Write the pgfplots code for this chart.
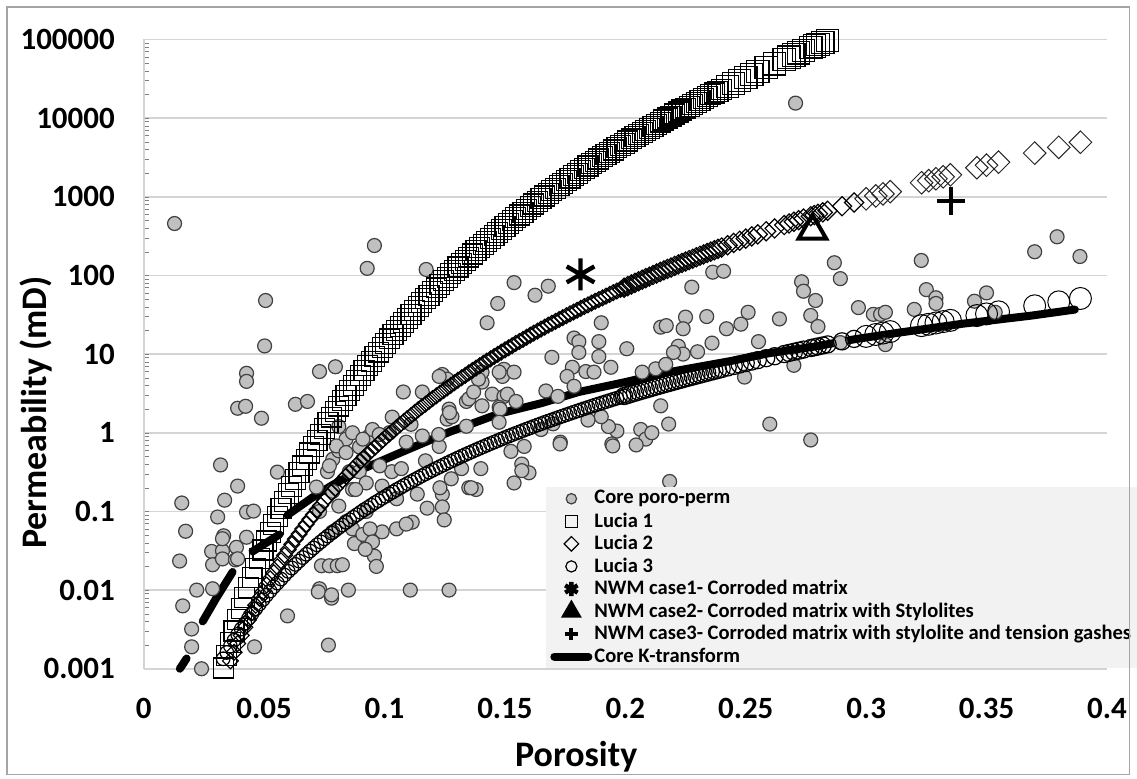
\documentclass[border=0pt]{standalone}
\usepackage{fontspec}
\setmainfont{Carlito}
\usepackage{pgfplots}
\pgfplotsset{compat=1.18}
\usepackage{pgfplotstable}
\definecolor{coregray}{RGB}{192,192,192}
\definecolor{gridgray}{RGB}{212,212,212}
\definecolor{leggray}{RGB}{242,242,242}
\definecolor{framegray}{RGB}{165,165,165}

\pgfplotstableread{
phi k
0.0128 457
0.0158 0.128
0.0174 0.056
0.0149 0.0234
0.022 0.010
0.0162 0.0063
0.0199 0.0032
0.0199 0.0019
0.024 0.001
0.0319 0.39
0.039 0.21
0.0336 0.139
0.0307 0.085
0.0427 0.098
0.0456 0.101
0.0332 0.049
0.0282 0.031
0.0327 0.0316
0.0385 0.035
0.0427 0.047
0.0286 0.021
0.0327 0.0249
0.0381 0.0242
0.0286 0.0104
0.0597 0.0047
0.046 0.0019
0.0555 0.316
0.0506 48
0.0502 12.7
0.0427 5.7
0.0427 4.5
0.039 2.05
0.0423 2.17
0.0489 1.53
0.0327 0.045
0.039 0.025
0.0928 123
0.0958 240
0.073 6.0
0.0796 6.9
0.063 2.3
0.068 2.5
0.0717 0.204
0.073 0.0104
0.078 0.0079
0.0767 0.002
0.0738 0.0204
0.0771 0.0204
0.0804 0.0204
0.0825 0.021
0.085 0.010
0.0725 0.0095
0.078 0.0087
0.0785 0.46
0.084 0.83
0.0867 1.0
0.0896 0.66
0.0937 0.91
0.081 0.59
0.0763 0.32
0.0854 0.32
0.0895 0.32
0.0785 0.18
0.0867 0.19
0.0924 0.23
0.099 0.21
0.103 0.32
0.105 0.145
0.099 0.055
0.0867 0.06
0.0895 0.041
0.0924 0.033
0.0958 0.027
0.0966 0.020
0.0785 0.055
0.084 0.074
0.0924 0.10
0.105 0.06
0.073 0.10
0.0771 0.38
0.081 1.2
0.095 1.1
0.102 1.0
0.0875 0.039
0.091 0.051
0.088 0.19
0.081 0.117
0.080 0.68
0.084 0.56
0.091 0.46
0.098 0.38
0.0978 0.95
0.091 0.83
0.1173 119
0.147 44
0.1426 25
0.1078 3.3
0.134 2.5
0.1405 4.4
0.1447 3.1
0.1496 2.9
0.1476 2.1
0.1268 2.0
0.126 1.49
0.128 1.6
0.1032 1.58
0.111 1.28
0.1157 0.91
0.109 0.76
0.1227 0.67
0.124 5.5
0.126 4.8
0.1496 6.4
0.149 5.2
0.1405 5.9
0.140 0.35
0.132 0.35
0.134 1.21
0.117 0.44
0.107 0.35
0.1277 0.26
0.135 0.20
0.138 0.19
0.124 0.165
0.124 0.114
0.1248 0.078
0.1177 0.11
0.1136 0.166
0.1115 0.073
0.109 0.069
0.094 0.06
0.095 0.041
0.092 0.033
0.1107 0.010
0.1268 0.010
0.1538 5.9
0.1476 5.9
0.139 4.8
0.135 2.7
0.127 1.8
0.1227 5.2
0.1157 3.3
0.137 3.3
0.1405 2.2
0.148 2.0
0.1225 0.95
0.123 0.2
0.136 0.2
0.1476 1.36
0.1525 0.58
0.1538 81
0.1625 56
0.168 73
0.190 25
0.1787 16
0.1807 14.4
0.189 14.4
0.1807 10.5
0.189 9.3
0.2006 11.7
0.1695 9.1
0.194 6.8
0.178 6.8
0.1836 6.0
0.187 5.9
0.1758 5.2
0.167 3.4
0.151 3.1
0.1546 2.5
0.1787 3.9
0.172 2.9
0.1965 1.05
0.1944 0.72
0.193 1.2
0.190 1.6
0.173 0.76
0.158 0.67
0.157 0.40
0.1538 0.23
0.160 0.31
0.157 0.33
0.1729 0.72
0.1948 0.68
0.170 1.3
0.165 1.1
0.1845 1.45
0.2276 71
0.2147 22
0.217 23
0.225 29.5
0.224 21
0.222 12.6
0.224 10
0.220 10.5
0.2126 6.5
0.2168 7.4
0.207 5.9
0.2147 2.2
0.218 1.29
0.2064 1.1
0.2085 0.83
0.2184 0.24
0.2363 110
0.2408 113
0.2338 30
0.248 24
0.242 21
0.236 13.8
0.230 10.7
0.2495 5.1
0.211 1.0
0.2045 0.7
0.2707 15500
0.2868 145
0.2893 91
0.2732 83
0.274 63
0.279 48
0.2968 39
0.303 32
0.306 32
0.251 34
0.264 28
0.277 31
0.280 22.4
0.2553 14.4
0.260 1.29
0.277 0.81
0.270 7.2
0.308 13.2
0.3229 155
0.325 66
0.329 52
0.329 44
0.320 37
0.308 34
0.345 47
0.350 60
0.3536 34
0.370 200
0.3793 310
0.3888 174
0.2893 14
}\coredata

\pgfplotstableread{
phi k1 k2 k3
0.033 0.00102 nan 0.00134
0.0345 0.00148 nan 0.00161
0.036 0.00215 0.00126 0.00194
0.0375 0.00302 0.00162 0.00230
0.039 0.00426 0.00209 0.00274
0.0405 0.00583 0.00265 0.00320
0.042 0.0080 0.00336 0.00375
0.0435 0.0107 0.00418 0.00435
0.045 0.0144 0.00521 0.00504
0.0465 0.0190 0.00641 0.00578
0.048 0.0250 0.00787 0.00664
0.0495 0.0324 0.00955 0.00756
0.051 0.0421 0.0116 0.00861
0.0525 0.0537 0.0139 0.00973
0.054 0.0685 0.0167 0.0110
0.0555 0.0863 0.0198 0.0123
0.057 0.109 0.0236 0.0138
0.0585 0.135 0.0277 0.0155
0.060 0.168 0.0327 0.0173
0.0615 0.207 0.0382 0.0191
0.063 0.255 0.0446 0.0212
0.0645 0.311 0.0517 0.0234
0.066 0.379 0.0600 0.0259
0.0675 0.458 0.0691 0.0285
0.069 0.553 0.0796 0.0313
0.0705 0.664 0.0912 0.0343
0.072 0.796 0.105 0.0376
0.0735 0.950 0.119 0.0410
0.075 1.132 0.136 0.0448
0.0765 1.338 0.154 0.0487
0.078 1.581 0.174 0.0530
0.0795 1.858 0.197 0.0574
0.081 2.183 0.222 0.0622
0.0825 2.550 0.249 0.0672
0.084 2.979 0.280 0.0726
0.0855 3.459 0.313 0.0783
0.087 4.018 0.350 0.0843
0.0885 4.639 0.390 0.0907
0.090 5.358 0.435 0.0975
0.0915 6.166 0.483 0.105
0.093 7.096 0.536 0.112
0.0945 8.128 0.593 0.120
0.096 9.31 0.656 0.129
0.0975 10.6 0.724 0.137
0.099 12.08 0.798 0.147
0.1005 13.7 0.878 0.156
0.102 15.6 0.966 0.167
0.1035 17.7 1.059 0.177
0.105 20.0 1.161 0.189
0.1065 22.5 1.271 0.200
0.108 25.4 1.390 0.213
0.1095 28.6 1.517 0.226
0.111 32.1 1.656 0.239
0.1125 36.0 1.803 0.253
0.114 40.4 1.963 0.268
0.1155 45.1 2.133 0.284
0.117 50.4 2.317 0.300
0.1185 56.1 2.512 0.317
0.120 62.5 2.723 0.334
0.1215 69.4 2.949 0.352
0.123 77.1 3.19 0.371
0.1245 85.5 3.447 0.390
0.126 94.8 3.72 0.411
0.1275 104.8 4.013 0.433
0.129 115.9 4.325 0.455
0.1305 127.8 4.651 0.478
0.132 141 5.0 0.502
0.1335 155.0 5.370 0.527
0.135 171 5.77 0.552
0.1365 187.5 6.187 0.579
0.138 206 6.64 0.607
0.1395 225.7 7.104 0.635
0.141 247 7.60 0.665
0.1425 270.7 8.138 0.696
0.144 296 8.71 0.728
0.1455 323.6 9.300 0.760
0.147 353 9.93 0.794
0.1485 385.0 10.59 0.830
0.150 420 11.3 0.867
0.1515 457.1 12.03 0.905
0.153 498 12.8 0.944
0.1545 540.0 13.65 0.983
0.156 586 14.5 1.023
0.1575 636.3 15.43 1.067
0.159 690 16.4 1.112
0.1605 747.4 17.42 1.157
0.162 809 18.5 1.205
0.1635 876.2 19.61 1.253
0.165 948 20.8 1.303
0.1665 1023 22.01 1.354
0.168 1104 23.3 1.406
0.1695 1191 24.64 1.460
0.171 1285 26.1 1.517
0.1725 1384 27.54 1.574
0.174 1489 29.1 1.633
0.1755 1603 30.76 1.694
0.177 1726 32.5 1.758
0.1785 1854 34.28 1.822
0.180 1991 36.1 1.888
0.1815 2138 38.11 1.957
0.183 2296 40.2 2.028
0.1845 2460 42.32 2.099
0.186 2636 44.6 2.173
0.1875 2822 46.94 2.249
0.189 3020 49.4 2.328
0.1905 3228 51.94 2.407
0.192 3451 54.6 2.489
0.1935 3686 57.35 2.573
0.195 3936 60.3 2.661
0.1965 4203 63.32 2.748
0.198 4487 66.5 2.838
0.1995 4786 69.74 2.931
0.201 5105 73.1 3.027
0.2025 5438 76.65 3.126
0.204 5794 80.4 3.228
0.2055 6166 84.25 3.331
0.207 6561 88.3 3.436
0.2085 6974 92.38 3.540
0.210 7413 96.6 3.648
0.2115 7879 101.2 3.763
0.213 8375 106 3.882
0.2145 8892 110.8 3.999
0.216 9441 116 4.121
0.2175 10010 120.9 4.242
0.219 10600 126 4.365
0.2205 11260 132.0 4.498
0.222 11940 138 4.634
0.2235 12650 144.1 4.770
0.225 13400 150 4.909
0.2265 14160 156.7 5.047
0.228 14960 163 5.188
0.2295 15830 170.4 5.333
0.231 16750 178 5.483
0.2325 17700 185.1 5.636
0.234 18700 193 5.794
0.2355 19750 200.7 5.957
0.237 20840 209 6.124
0.2385 22000 217.6 6.288
0.240 23220 226 6.457
0.2425 25350 242 6.76
0.245 27700 259 7.063
0.2475 30200 276 7.38
0.250 32840 294 7.691
0.2525 35800 314 8.04
0.255 38900 333 8.375
0.2585 43800 364 8.88
0.262 49090 396 9.397
0.266 55850 437 10.02
0.268 59500 458 10.35
0.270 63530 481 10.69
0.272 67600 504 11.04
0.274 71940 528 11.40
0.277 78890 566 11.94
0.2785 82600 585 12.21
0.280 86500 607 12.50
0.282 91800 634 12.88
0.284 97500 663 13.27
0.290 nan 758 14.52
0.295 nan 845 15.60
0.300 nan 941 16.79
0.304 nan 1025 17.75
0.307 nan 1090 18.51
0.310 nan 1161 19.31
0.323 nan 1507 23.01
0.326 nan 1600 23.93
0.329 nan 1695 24.89
0.332 nan 1795 25.88
0.335 nan 1901 26.85
0.346 nan 2339 30.90
0.350 nan 2518 32.43
0.355 nan 2754 34.44
0.370 nan 3589 41.11
0.380 nan 4255 46.13
0.389 nan 4932 50.93
}\luciadata

\begin{document}
\begin{tikzpicture}
\path (-72pt,-54.5pt) rectangle (496.5pt,335pt);
\begin{axis}[
  at={(0pt,0pt)}, anchor=south west,
  scale only axis, width=482.5pt, height=315.25pt,
  xmin=0, xmax=0.4, ymode=log, ymin=0.001, ymax=100000,
  clip=false,
  xtick={0,0.05,0.1,0.15,0.2,0.25,0.3,0.35,0.4},
  xticklabels={0,0.05,0.1,0.15,0.2,0.25,0.3,0.35,0.4},
  ytick={0.001,0.01,0.1,1,10,100,1000,10000,100000},
  yticklabels={0.001,0.01,0.1,1,10,100,1000,10000,100000},
  /pgf/number format/assume math mode=true,
  axis x line*=bottom, axis y line*=left,
  axis line style={draw=gridgray, line width=0.8pt},
  major tick length=0pt,
  ymajorgrids, grid style={draw=gridgray, line width=0.8pt},
  ticklabel style={font=\bfseries\fontsize{15.5}{18}\selectfont},
  xticklabel style={yshift=-11pt},
  yticklabel style={xshift=-11pt},
  xlabel={Porosity}, ylabel={Permeability (mD)},
  label style={font=\bfseries\fontsize{18}{21}\selectfont},
  xlabel style={at={(axis description cs:0.449,-0.1396)}, anchor=center},
  ylabel style={at={(axis description cs:-0.112,0.407)}, anchor=center},
  legend cell align=left,
  legend style={at={(axis description cs:0.4176,0.2887)}, anchor=north west,
    draw=none, fill=leggray, inner xsep=2pt, inner ysep=0pt, row sep=0pt,
    font=\bfseries\fontsize{10.3}{11.3}\selectfont,
    nodes={inner xsep=1pt, inner ysep=0pt, minimum height=11.3pt}},
]
% Core poro-perm
\addplot[only marks, mark=*, mark size=3.5pt,
  mark options={fill=coregray, draw=black!75, line width=0.6pt},
  legend image post style={mark size=2.6pt}]
  table[x=phi,y=k]{\coredata};
\addlegendentry{Core poro-perm}
% Lucia 1
\addplot[only marks, black, mark=square, mark size=5pt,
  mark options={draw=black, line width=0.6pt},
  restrict x to domain=0:0.2405,
  legend image post style={mark size=3pt, line width=0.5pt}]
  table[x=phi,y=k1]{\luciadata};
\addlegendentry{Lucia 1}
\addplot[only marks, black, mark=square, mark size=5.6pt, forget plot,
  mark options={draw=black, line width=0.6pt},
  restrict x to domain=0.2405:0.4]
  table[x=phi,y=k1]{\luciadata};
% Lucia 2
\addplot[only marks, black, mark=square, mark size=2.8pt,
  mark options={rotate=45, draw=black, line width=0.6pt},
  restrict x to domain=0:0.1995,
  legend image post style={mark size=2.6pt, draw=black!55, line width=0.5pt}]
  table[x=phi,y=k2]{\luciadata};
\addlegendentry{Lucia 2}
\addplot[only marks, black, mark=square, mark size=3.4pt, forget plot,
  mark options={rotate=45, draw=black, line width=0.6pt},
  restrict x to domain=0.1995:0.2985]
  table[x=phi,y=k2]{\luciadata};
\addplot[only marks, black, mark=square, mark size=4.0pt, forget plot,
  mark options={rotate=45, draw=black!85, line width=0.5pt},
  restrict x to domain=0.2985:0.4]
  table[x=phi,y=k2]{\luciadata};
% Lucia 3
\addplot[only marks, black, mark=o, mark size=3.4pt,
  mark options={draw=black, line width=0.6pt},
  restrict x to domain=0:0.1995,
  legend image post style={mark size=2.8pt, line width=0.5pt}]
  table[x=phi,y=k3]{\luciadata};
\addlegendentry{Lucia 3}
\addplot[only marks, black, mark=o, mark size=4.3pt, forget plot,
  mark options={draw=black, line width=0.6pt},
  restrict x to domain=0.1995:0.2985]
  table[x=phi,y=k3]{\luciadata};
\addplot[only marks, black, mark=o, mark size=5.5pt, forget plot,
  mark options={draw=black, line width=0.5pt},
  restrict x to domain=0.2985:0.4]
  table[x=phi,y=k3]{\luciadata};
% NWM cases
\addplot[only marks, black, mark=asterisk, mark size=8pt,
  mark options={line width=2.2pt},
  legend image post style={mark size=3.6pt}]
  coordinates {(0.1814,103)};
\addlegendentry{NWM case1- Corroded matrix}
\addplot[only marks, black, mark=triangle, mark size=8pt,
  mark options={line width=2pt},
  legend image post style={mark=triangle*, mark size=4pt}]
  coordinates {(0.2777,370)};
\addlegendentry{NWM case2- Corroded matrix with Stylolites}
\addplot[only marks, black, mark=+, mark size=7pt,
  mark options={line width=2pt},
  legend image post style={mark size=3.2pt}]
  coordinates {(0.3352,893)};
\addlegendentry{NWM case3- Corroded matrix with stylolite and tension gashes}
% Core K-transform
\addplot[black, line width=4pt, line cap=round, no markers, unbounded coords=jump]
  coordinates {
  (0.0150,0.00100) (0.0178,0.00135)
  (0.0200,nan)
  (0.0245,0.0040) (0.0300,0.0078) (0.0369,0.0170)
  (0.0400,nan)
  (0.0452,0.031) (0.0564,0.051)
  (0.0580,nan)
  (0.0597,0.090) (0.070,0.150) (0.0783,0.216) (0.090,0.337) (0.1061,0.55)
  (0.1268,1.02) (0.1476,1.75) (0.165,2.37) (0.1807,3.3) (0.200,4.41)
  (0.2168,5.8) (0.2441,8.2) (0.260,10.3) (0.279,12.5) (0.295,15.4)
  (0.3134,18.7) (0.340,24.3) (0.3685,30.8) (0.3867,36.8)
  };
\addlegendentry{Core K-transform}
\end{axis}
\draw[framegray, line width=0.6pt] (-68.5pt,-53pt) rectangle (494pt,331.5pt);
\end{tikzpicture}
\end{document}
